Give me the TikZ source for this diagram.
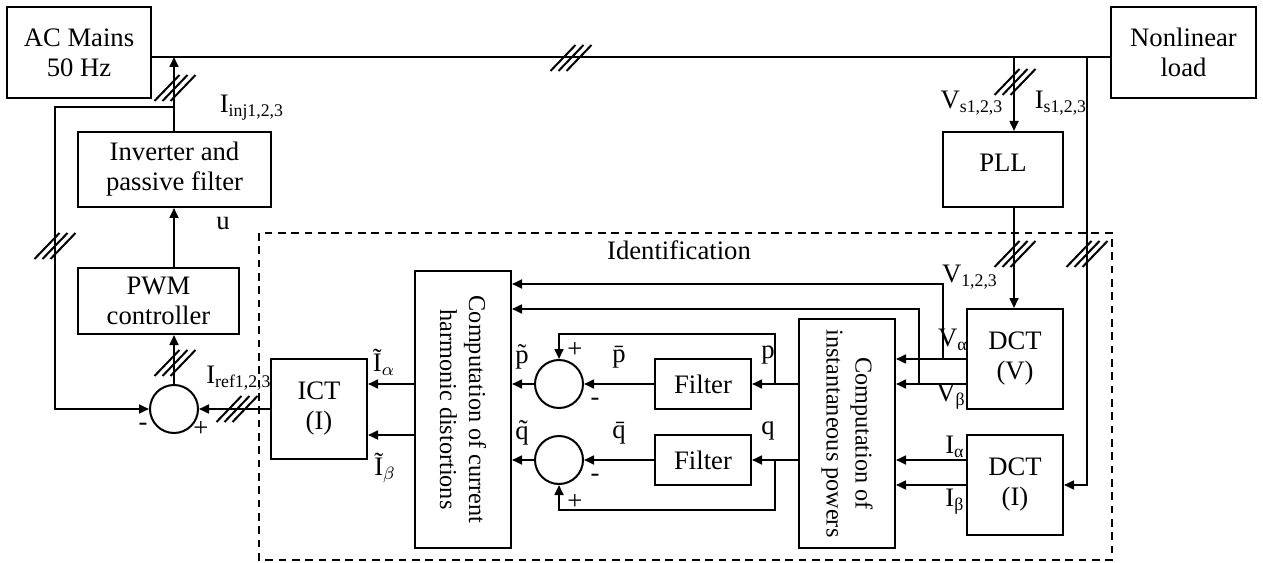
\documentclass[tikz,border=0pt]{standalone}
\usepackage{fontspec}
\setmainfont{Liberation Serif}
\usetikzlibrary{arrows.meta}
\def\px{0.45pt}
\newcommand{\threeph}[1]{%
  \foreach \k in {-8,0,8}{
    \draw ([shift={(\k-12.5,13)}]#1) -- ([shift={(\k+12.5,-13)}]#1);
  }}
\tikzset{
  blk/.style={draw, line width=0.9pt, inner sep=1pt, align=center},
  rtxt/.style={rotate=-90, align=center, font=\fontsize{10.9}{13}\selectfont},
  sumc/.style={draw, circle, line width=0.9pt, minimum size=48*\px, inner sep=0pt},
  lbl/.style={inner sep=0pt},
}
\begin{document}
\begin{tikzpicture}[x=\px, y=-\px, line width=0.9pt, >={Triangle[length=4.5pt,width=4pt]},
  font=\fontsize{12}{13.5}\selectfont]
		\useasboundingbox (0,0) rectangle (1263,563);
		% blocks
		\node[blk, minimum width=144*\px, minimum height=91*\px] (ac) at (79,52.5) {AC Mains\\50 Hz};
		\node[blk, minimum width=145*\px, minimum height=91*\px] (load) at (1183.5,52.5) {Nonlinear\\load};
		\node[blk, minimum width=193*\px, minimum height=75*\px] (inv) at (174.5,169.5) {Inverter and\\passive filter};
		\node[blk, minimum width=161*\px, minimum height=66*\px] (pwm) at (158.5,301) {PWM\\controller};
		\node[blk, minimum width=120*\px, minimum height=75*\px] (pll) at (1003,169.5) {\raisebox{6pt}{PLL}};
		\node[blk, minimum width=96*\px, minimum height=100*\px] (ict) at (319,409) {ICT\\(I)};
		\node[blk, minimum width=96*\px, minimum height=277*\px] (hd) at (463,409.5) {};
		\node[rtxt] at (hd) {Computation of current\\harmonic distortions};
		\node[blk, minimum width=96*\px, minimum height=229*\px] (ip) at (847,433.5) {};
		\node[rtxt] at (ip) {Computation of\\instantaneous powers};
		\node[blk, minimum width=96*\px, minimum height=50*\px] (fp) at (703,384) {Filter};
		\node[blk, minimum width=96*\px, minimum height=50*\px] (fq) at (703,460) {Filter};
		\node[blk, minimum width=96*\px, minimum height=100*\px] (dv) at (1015,359) {DCT\\(V)};
		\node[blk, minimum width=96*\px, minimum height=100*\px] (di) at (1015,485) {DCT\\(I)};
		\node[sumc] (sum) at (174,409) {};
		\node[sumc] (sp) at (559,384) {};
		\node[sumc] (sq) at (559,460) {};
		% identification frame
		\draw[dash pattern=on 3.5pt off 2.5pt] (259,233) rectangle (1112,560);
		\node[lbl] (ident) at (679,250) {Identification};
		% named points
		\coordinate (bus) at (0,57);
		\coordinate (fb) at (174,107);
		\coordinate (fbc) at (55,107);
		\coordinate (vs) at (1014,57);
		\coordinate (is) at (1087,57);
		\coordinate (pj) at (775,384);
		\coordinate (qj) at (775,460);
		\coordinate (va) at (943,359);
		\coordinate (vb) at (919,384);
		\coordinate (ia) at (0,384);
		\coordinate (ib) at (0,435);
		% power side
		\draw (ac.east |- bus) -- (load.west |- bus);
		\draw[->] (sum |- inv.north) -- (sum |- bus);
		\draw[->] (fb) -- (fbc) |- (sum.west);
		\draw[->] (sum |- pwm.north) -- (sum |- inv.south);
		\draw[->] (sum.north) -- (sum |- pwm.south);
		\draw[->] (ict.west) -- (sum.east);
		\draw[->] (vs) -- (vs |- pll.north);
		\draw[->] (vs |- pll.south) -- (vs |- dv.north);
		\draw[->] (is) |- (di.east);
		% identification
		\draw[->] (hd.west |- ia) -- (ict.east |- ia);
		\draw[->] (hd.west |- ib) -- (ict.east |- ib);
		\draw[->] (sp.west) -- (sp.west -| hd.east);
		\draw[->] (sq.west) -- (sq.west -| hd.east);
		\draw[->] (fp.west) -- (sp.east);
		\draw[->] (fq.west) -- (sq.east);
		\draw[->] (ip.west |- fp) -- (fp.east);
		\draw[->] (ip.west |- fq) -- (fq.east);
		\draw[->] (pj) -- ++(0,-50) -| (sp.north);
		\draw[->] (qj) -- ++(0,50) -| (sq.south);
		\draw[->] (dv.west) -- (dv.west -| ip.east);
		\draw[->] (dv.west |- sp) -- (ip.east |- sp);
		\draw[->] (di.west |- sq) -- (ip.east |- sq);
		\draw[->] (di.west) -- (di.west -| ip.east);
		\draw[->] (va) |- (hd.east |- 0,284);
		\draw[->] (vb) |- (hd.east |- 0,309);
		% three-phase marks
		\threeph{571,58}
		\threeph{175,88}
		\threeph{55,246}
		\threeph{175,363}
		\threeph{237,409}
		\threeph{1015,82}
		\threeph{1015,254}
		\threeph{1087,254}
		% labels
		\node[lbl] (linj) at (252,108) {I\textsubscript{inj1,2,3}};
		\node[lbl] (lu) at (223,224) {u};
		\node[lbl] (lvs) at (972,103) {V\textsubscript{s1,2,3}};
		\node[lbl] (lis) at (1061,103) {I\textsubscript{s1,2,3}};
		\node[lbl] (lv) at (970,277) {V\textsubscript{1,2,3}};
		\node[lbl] (lref) at (239,378) {I\textsubscript{ref1,2,3}};
		\node[lbl] (lia) at (384,362) {Ĩ$_{\alpha}$};
		\node[lbl] (lib) at (385,468) {Ĩ$_{\beta}$};
		\node[lbl] (lpt) at (522,357) {\~{p}};
		\node[lbl] (lqt) at (522,433) {\~{q}};
		\node[lbl] (lpb) at (619,357) {\={p}};
		\node[lbl] (lqb) at (619,433) {\={q}};
		\node[lbl] (lp) at (768,355) {p};
		\node[lbl] (lq) at (768,431) {q};
		\node[lbl] (lva) at (953,340) {V\textsubscript{α}};
		\node[lbl] (lvb) at (951,397) {V\textsubscript{β}};
		\node[lbl] (lia2) at (955,447) {I\textsubscript{α}};
		\node[lbl] (lib2) at (955,502) {I\textsubscript{β}};
		% signs
		\node[lbl] at (143,427) {-};
		\node[lbl] at (201,429) {+};
		\node[lbl] at (575,350) {+};
		\node[lbl] at (595,402) {-};
		\node[lbl] at (595,478) {-};
		\node[lbl] at (575,502) {+};
\end{tikzpicture}
\end{document}
